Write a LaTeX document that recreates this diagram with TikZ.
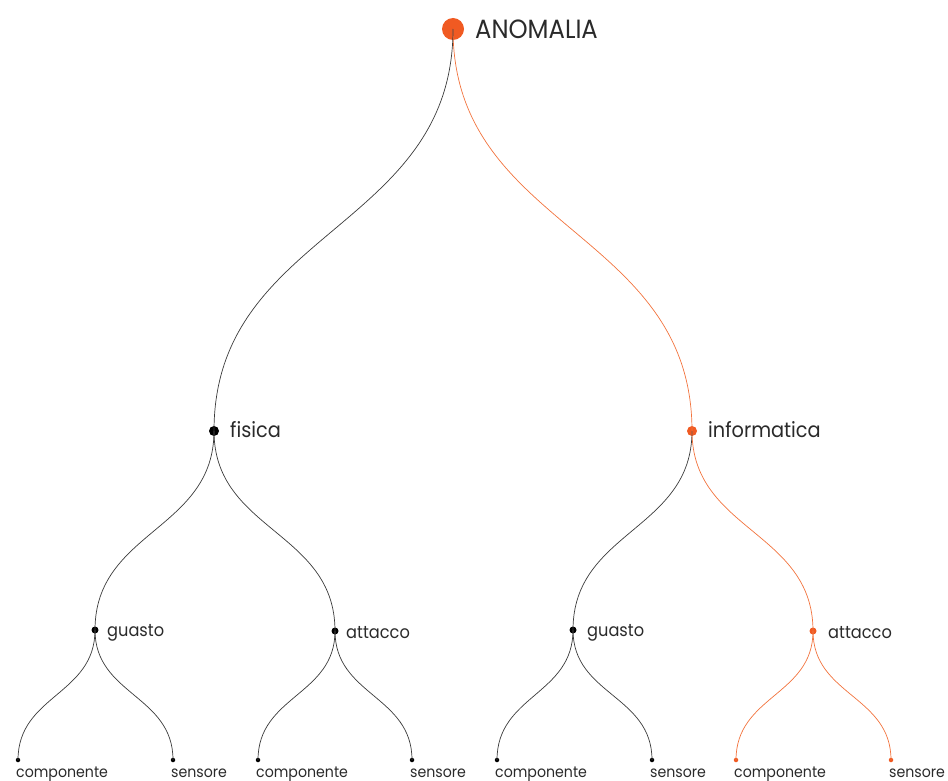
\documentclass[tikz,border=0pt]{standalone}
\usepackage{fontspec}
\setmainfont{Poppins}[FakeStretch=0.92]
\usetikzlibrary{calc}
\definecolor{accent}{HTML}{F05A22}
\definecolor{accentline}{HTML}{F2733D}
\definecolor{ink}{HTML}{3A3A3A}
\definecolor{txt}{HTML}{2A2A2A}

\tikzset{
  dot/.style={circle, inner sep=0pt, fill=#1},
  dot/.default=black,
  link/.style={line width=0.7pt, draw=#1},
  link/.default=ink,
  rootlbl/.style={anchor=base west, inner sep=0pt, text=txt, font=\fontsize{26.4}{26.4}\selectfont},
  midlbl/.style={anchor=base west, inner sep=0pt, text=txt, font=\fontsize{21}{21}\selectfont},
  sublbl/.style={anchor=base west, inner sep=0pt, text=txt, font=\fontsize{17.6}{17.6}\selectfont},
  leaflbl/.style={anchor=base west, inner sep=0pt, text=txt, font=\fontsize{15.4}{15.4}\selectfont},
}

% curved vertical link from #2 to #3 in colour #1
\newcommand\branch[3]{%
  \coordinate (mid) at ($(#2.center)!0.5!(#3.center)$);
  \draw[link=#1] (#2.center) .. controls (mid -| #2.center) and (mid -| #3.center) .. (#3.center);
}

\begin{document}
\begin{tikzpicture}[x=1pt, y=-1pt]
\useasboundingbox (0,0) rectangle (948,781);

% dots
\node[dot=accent, minimum size=22pt] (r)  at (453,29) {};
\node[dot=black,  minimum size=10pt] (f)  at (214,431) {};
\node[dot=accent, minimum size=10pt] (i)  at (692,431) {};
\node[dot=black,  minimum size=7pt] (fg) at (95,630) {};
\node[dot=black,  minimum size=7pt] (fa) at (335,631) {};
\node[dot=black,  minimum size=7pt] (ig) at (573,630) {};
\node[dot=accent, minimum size=7pt] (ia) at (813,631) {};
\node[dot=black,  minimum size=4.5pt] (fgc) at (18,760) {};
\node[dot=black,  minimum size=4.5pt] (fgs) at (173,760) {};
\node[dot=black,  minimum size=4.5pt] (fac) at (258,760) {};
\node[dot=black,  minimum size=4.5pt] (fas) at (412,760) {};
\node[dot=black,  minimum size=4.5pt] (igc) at (497,760) {};
\node[dot=black,  minimum size=4.5pt] (igs) at (652,760) {};
\node[dot=accent, minimum size=4.5pt] (iac) at (736,760) {};
\node[dot=accent, minimum size=4.5pt] (ias) at (891,760) {};

% links
\branch{accentline}{r}{i}
\branch{ink}{r}{f}
\branch{ink}{f}{fg}
\branch{ink}{f}{fa}
\branch{ink}{i}{ig}
\branch{accentline}{i}{ia}
\branch{ink}{fg}{fgc}
\branch{ink}{fg}{fgs}
\branch{ink}{fa}{fac}
\branch{ink}{fa}{fas}
\branch{ink}{ig}{igc}
\branch{ink}{ig}{igs}
\branch{accentline}{ia}{iac}
\branch{accentline}{ia}{ias}

% labels
\node[rootlbl] (r-t) at (475,39) {ANOMALIA};
\node[midlbl] (f-t) at (230,437.5) {fisica};
\node[midlbl] (i-t) at (708,437.5) {informatica};
\node[sublbl] (fg-t) at (107,636) {guasto};
\node[sublbl] (fa-t) at (346,638) {attacco};
\node[sublbl] (ig-t) at (587,636) {guasto};
\node[sublbl] (ia-t) at (828,638) {attacco};
\node[leaflbl] (fgc-t) at ($(fgc.center)+(-2,17)$) {componente};
\node[leaflbl] (fgs-t) at ($(fgs.center)+(-2,17)$) {sensore};
\node[leaflbl] (fac-t) at ($(fac.center)+(-2,17)$) {componente};
\node[leaflbl] (fas-t) at ($(fas.center)+(-2,17)$) {sensore};
\node[leaflbl] (igc-t) at ($(igc.center)+(-2,17)$) {componente};
\node[leaflbl] (igs-t) at ($(igs.center)+(-2,17)$) {sensore};
\node[leaflbl] (iac-t) at ($(iac.center)+(-2,17)$) {componente};
\node[leaflbl] (ias-t) at ($(ias.center)+(-2,17)$) {sensore};
\end{tikzpicture}
\end{document}
